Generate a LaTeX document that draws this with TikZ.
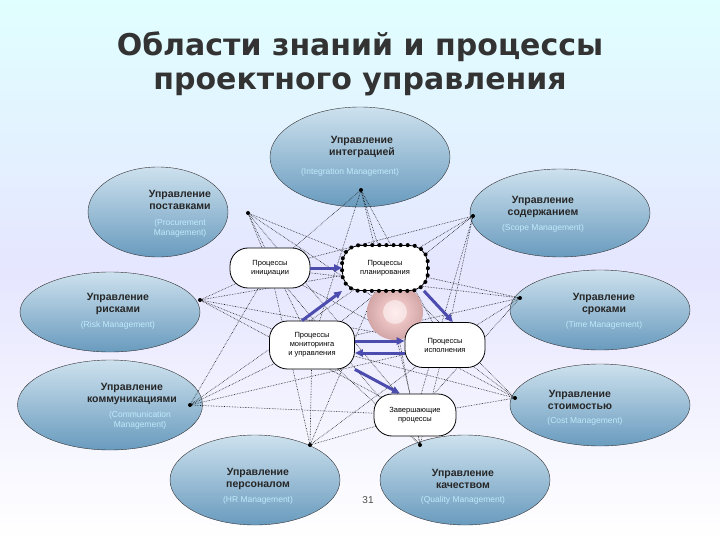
\documentclass[tikz,border=0pt]{standalone}
\usepackage{fontspec}
\setmainfont{Liberation Sans}
\newfontfamily\titlefont{DejaVu Sans}
\usetikzlibrary{arrows.meta,shapes.geometric,shadings}
\definecolor{elltop}{RGB}{205,225,238}
\definecolor{ellbot}{RGB}{105,155,190}
\begin{document}
\begin{tikzpicture}[x=1pt,y=-1pt,
  area/.style={ellipse,draw=black!80,thin,top color=elltop,bottom color=ellbot},
  lab/.style={font=\bfseries\fontsize{10.5}{12.5}\selectfont,align=center,text=black!85},
  proc/.style={rounded corners=18pt,draw=black,thick,fill=white,align=center,font=\fontsize{7.5}{9}\selectfont,inner sep=2pt},
  eng/.style={text=white!75!cyan,font=\fontsize{8.5}{10}\selectfont},
  link/.style={densely dotted,black!90,line width=0.6pt},
  flow/.style={-{Triangle[length=8pt,width=7pt]},line width=3pt,blue!55!black!70!white},
  dot/.style={circle,fill=black,inner sep=0pt,minimum size=4pt}]
\fill[top color=cyan!12,bottom color=white,middle color=blue!10] (0,0) rectangle (720,540);
\useasboundingbox (0,0) rectangle (720,540);
\node[font=\titlefont\bfseries\fontsize{30}{34}\selectfont,text=black!80,align=center] (title) at (360,64) {Области знаний и процессы\\проектного управления};
% areas
\node[area,minimum width=180pt,minimum height=100pt] (integ) at (360,157) {};
\node[area,minimum width=140pt,minimum height=90pt] (proc) at (158,212) {};
\node[area,minimum width=180pt,minimum height=88pt] (scope) at (560,213) {};
\node[area,minimum width=180pt,minimum height=80pt] (risk) at (110,312) {};
\node[area,minimum width=180pt,minimum height=80pt] (time) at (600,310) {};
\node[area,minimum width=185pt,minimum height=90pt] (comm) at (110,405) {};
\node[area,minimum width=180pt,minimum height=82pt] (cost) at (600,405) {};
\node[area,minimum width=170pt,minimum height=90pt] (hr) at (255,480) {};
\node[area,minimum width=170pt,minimum height=90pt] (qual) at (465,480) {};
% area texts
\node[lab] (t1) at (362,147) {Управление\\интеграцией};
\node[eng] (e1) at (350,172) {(Integration Management)};
\node[lab] (t2) at (180,200) {Управление\\поставками};
\node[eng,align=center] (e2) at (180,228) {(Procurement\\Management)};
\node[lab] (t3) at (543,207) {Управление\\содержанием};
\node[eng] (e3) at (543,228) {(Scope Management)};
\node[lab] (t4) at (118,304) {Управление\\рисками};
\node[eng] (e4) at (118,325) {(Risk Management)};
\node[lab] (t5) at (604,304) {Управление\\сроками};
\node[eng] (e5) at (604,325) {(Time Management)};
\node[lab] (t6) at (132,394) {Управление\\коммуникациями};
\node[eng,align=center] (e6) at (140,420) {(Communication\\Management)};
\node[lab] (t7) at (580,400) {Управление\\стоимостью};
\node[eng] (e7) at (585,421) {(Cost Management)};
\node[lab] (t8) at (258,479) {Управление\\персоналом};
\node[eng] (e8) at (258,500) {(HR Management)};
\node[lab] (t9) at (463,479) {Управление\\качеством};
\node[eng] (e9) at (463,500) {(Quality Management)};
% dots on areas
\node[dot] (d1) at (361,190) {};
\node[dot] (d2) at (248,213) {};
\node[dot] (d3) at (473,216) {};
\node[dot] (d4) at (200,300) {};
\node[dot] (d5) at (520,298) {};
\node[dot] (d6) at (190,405) {};
\node[dot] (d7) at (515,398) {};
\node[dot] (d8) at (310,445) {};
\node[dot] (d9) at (420,445) {};
% process centres (for links)
\coordinate (pi) at (270,268);
\coordinate (pp) at (385,268);
\coordinate (pm) at (312,345);
\coordinate (pe) at (445,345);
\coordinate (pc) at (415,415);
% links
\foreach \d in {d1,d2,d3,d4,d5,d6,d7,d8,d9}{
  \foreach \p in {pi,pp,pm,pe,pc}{
    \draw[link] (\d) -- (\p);
  }
}
% red circular arrow
\shade[inner color=red!15,outer color=red!50!black!35] (395,312) circle (28pt);
\fill[white,opacity=0.5] (395,312) circle (12pt);
% process boxes
\node[proc,minimum width=80pt,minimum height=40pt] (init) at (270,268) {Процессы\\инициации};
\node[proc,minimum width=85pt,minimum height=45pt] (plan) at (385,268) {Процессы\\планирования};
\draw[line width=4pt,dash pattern=on 0.1pt off 7pt,line cap=round,rounded corners=18pt] (plan.north west) rectangle (plan.south east);
\node[proc,minimum width=85pt,minimum height=48pt] (mon) at (312,345) {Процессы\\мониторинга\\и управления};
\node[proc,minimum width=80pt,minimum height=45pt] (exe) at (445,345) {Процессы\\исполнения};
\node[proc,minimum width=82pt,minimum height=42pt] (clo) at (415,415) {Завершающие\\процессы};
% blue flow arrows
\draw[flow] (init.east) -- (plan.west);
\draw[flow] ([xshift=-4pt]plan.south east) -- ([xshift=8pt]exe.north);
\draw[flow] ([yshift=-8pt]exe.west) -- ([yshift=-8pt]mon.east);
\draw[flow] ([yshift=4pt]mon.east) -- ([yshift=4pt]exe.west);
\draw[flow] ([xshift=-10pt]mon.north) -- (plan.south west);
\draw[flow] (mon.south east) -- ([xshift=-15pt]clo.north);
\node[font=\fontsize{10}{12}\selectfont,text=black!70] (pg) at (368,500) {31};
\end{tikzpicture}
\end{document}
